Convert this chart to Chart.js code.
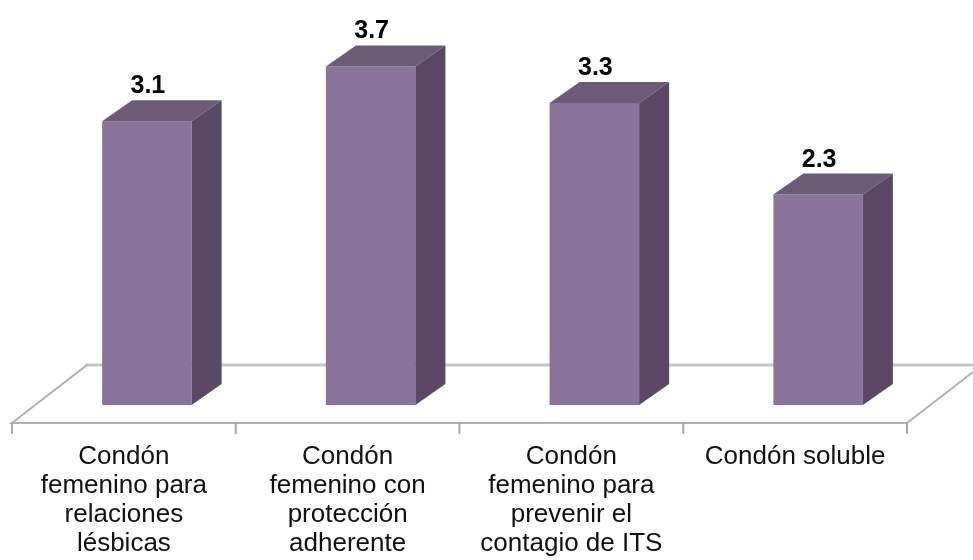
<!DOCTYPE html>
<html>
<head>
<meta charset="utf-8">
<script src="https://cdn.jsdelivr.net/npm/chart.js@4/dist/chart.umd.min.js"></script>
<style>
  html, body { margin: 0; padding: 0; background: #fff; }
  #wrap { width: 973px; height: 560px; position: relative; }
</style>
</head>
<body>
<div id="wrap"><canvas id="c"></canvas></div>
<script>
// --- data ---
const categories = [
  ['Condón', 'femenino para', 'relaciones', 'lésbicas'],
  ['Condón', 'femenino con', 'protección', 'adherente'],
  ['Condón', 'femenino para', 'prevenir el', 'contagio de ITS'],
  ['Condón soluble']
];
const values = [3.1, 3.7, 3.3, 2.3];
const valueLabels = ['3.1', '3.7', '3.3', '2.3'];

// --- look ---
const FRONT = '#8a7499';
const TOP   = '#6c5a79';
const SIDE  = '#594964';
const DEPTH_X = 30, DEPTH_Y = -21;          // bar depth
const FLOOR_SHIFT_X = 23, FLOOR_SHIFT_Y = 18; // bars sit a bit back on the floor
const FLOOR_DX = 75, FLOOR_DY = -58;          // floor depth

// floor + category ticks, drawn under the bars
const floorPlugin = {
  id: 'floor',
  beforeDatasetsDraw(chart) {
    const { ctx, chartArea: a, scales: { x } } = chart;
    const fl = a.left - FLOOR_SHIFT_X, fr = a.right - FLOOR_SHIFT_X;
    const fy = a.bottom + FLOOR_SHIFT_Y;
    ctx.save();
    ctx.lineCap = 'square';
    // back edge
    ctx.strokeStyle = '#c6c6c6';
    ctx.lineWidth = 3;
    ctx.beginPath();
    ctx.moveTo(fl + FLOOR_DX, fy + FLOOR_DY);
    ctx.lineTo(fr + FLOOR_DX, fy + FLOOR_DY);
    ctx.stroke();
    // front, left, right edges
    ctx.strokeStyle = '#b2b2b2';
    ctx.lineWidth = 2;
    ctx.beginPath();
    ctx.moveTo(fl + FLOOR_DX, fy + FLOOR_DY);
    ctx.lineTo(fl, fy);
    ctx.lineTo(fr, fy);
    ctx.lineTo(fr + FLOOR_DX, fy + FLOOR_DY);
    ctx.stroke();
    // ticks at category borders
    const w = (x.right - x.left) / categories.length;
    ctx.strokeStyle = '#a8a8a8';
    ctx.beginPath();
    for (let i = 0; i <= categories.length; i++) {
      const px = x.getPixelForValue(0) - w / 2 + i * w - FLOOR_SHIFT_X;
      ctx.moveTo(px, fy);
      ctx.lineTo(px, fy + 10);
    }
    ctx.stroke();
    ctx.restore();
  }
};

// top + side faces and value labels
const boxPlugin = {
  id: 'box3d',
  afterDatasetsDraw(chart) {
    const ctx = chart.ctx;
    const meta = chart.getDatasetMeta(0);
    ctx.save();
    meta.data.forEach((bar, i) => {
      const { x, y, base, width } = bar.getProps(['x', 'y', 'base', 'width'], true);
      const l = x - width / 2, r = x + width / 2;
      ctx.fillStyle = TOP;
      ctx.beginPath();
      ctx.moveTo(l, y);
      ctx.lineTo(l + DEPTH_X, y + DEPTH_Y);
      ctx.lineTo(r + DEPTH_X, y + DEPTH_Y);
      ctx.lineTo(r, y);
      ctx.closePath();
      ctx.fill();
      ctx.fillStyle = SIDE;
      ctx.beginPath();
      ctx.moveTo(r, y);
      ctx.lineTo(r + DEPTH_X, y + DEPTH_Y);
      ctx.lineTo(r + DEPTH_X, base + DEPTH_Y);
      ctx.lineTo(r, base);
      ctx.closePath();
      ctx.fill();

      ctx.fillStyle = '#000';
      ctx.font = 'bold 25px "Liberation Sans", Arial, sans-serif';
      ctx.textAlign = 'center';
      ctx.textBaseline = 'alphabetic';
      ctx.fillText(valueLabels[i], x + 1, y + DEPTH_Y - 7);
    });
    ctx.restore();
  }
};

new Chart(document.getElementById('c'), {
  type: 'bar',
  data: {
    labels: categories,
    datasets: [{
      data: values,
      backgroundColor: FRONT,
      borderWidth: 0,
      barPercentage: 0.40,
      categoryPercentage: 1.0
    }]
  },
  options: {
    responsive: true,
    maintainAspectRatio: false,
    animation: false,
    events: [],
    layout: { padding: { top: 39, left: 35, right: 43, bottom: 0 } },
    plugins: { legend: { display: false }, tooltip: { enabled: false } },
    scales: {
      x: {
        grid: { display: false, drawTicks: false },
        border: { display: false },
        ticks: {
          color: '#111',
          padding: 37,
          labelOffset: -FLOOR_SHIFT_X,
          maxRotation: 0,
          autoSkip: false,
          font: { family: '"Liberation Sans", Arial, sans-serif', size: 26, lineHeight: '29px' }
        },
        afterFit(scale) { scale.height = 155; }
      },
      y: {
        display: false,
        min: 0,
        max: 4
      }
    }
  },
  plugins: [floorPlugin, boxPlugin]
});
</script>
</body>
</html>
